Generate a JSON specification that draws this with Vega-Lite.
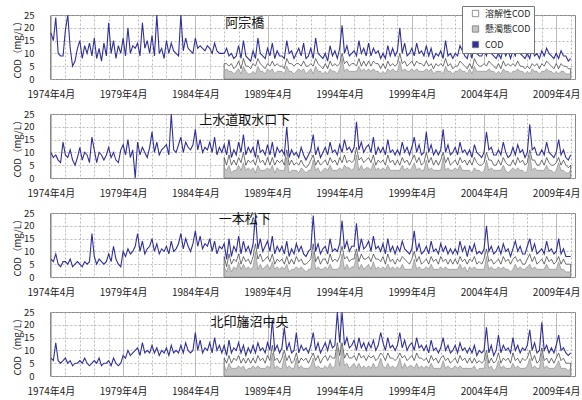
{
"$schema":"https://vega.github.io/schema/vega-lite/v6.json",
"padding":{"left":11,"top":5,"right":0,"bottom":0},
"spacing":6,
"data":{"values":[
{"t":"1974-04","a":18,"b":10,"c":7,"d":7},
{"t":"1974-06","a":15,"b":8,"c":6,"d":6},
{"t":"1974-08","a":24,"b":9,"c":9,"d":13},
{"t":"1974-10","a":10,"b":7,"c":5,"d":6},
{"t":"1974-12","a":9,"b":6,"c":4,"d":5},
{"t":"1975-02","a":9,"b":14,"c":6,"d":6},
{"t":"1975-04","a":19,"b":9,"c":6,"d":7},
{"t":"1975-06","a":25,"b":8,"c":5,"d":5},
{"t":"1975-08","a":12,"b":11,"c":7,"d":6},
{"t":"1975-10","a":5,"b":7,"c":4,"d":4},
{"t":"1975-12","a":7,"b":5,"c":5,"d":5},
{"t":"1976-02","a":12,"b":8,"c":6,"d":5},
{"t":"1976-04","a":15,"b":12,"c":5,"d":6},
{"t":"1976-06","a":8,"b":7,"c":4,"d":5},
{"t":"1976-08","a":13,"b":10,"c":6,"d":7},
{"t":"1976-10","a":10,"b":9,"c":5,"d":5},
{"t":"1976-12","a":14,"b":6,"c":6,"d":4},
{"t":"1977-02","a":9,"b":16,"c":17,"d":5},
{"t":"1977-04","a":16,"b":11,"c":8,"d":6},
{"t":"1977-06","a":8,"b":6,"c":5,"d":5},
{"t":"1977-08","a":12,"b":10,"c":7,"d":7},
{"t":"1977-10","a":7,"b":9,"c":6,"d":4},
{"t":"1977-12","a":14,"b":7,"c":5,"d":5},
{"t":"1978-02","a":9,"b":9,"c":6,"d":5},
{"t":"1978-04","a":22,"b":12,"c":9,"d":6},
{"t":"1978-06","a":10,"b":8,"c":6,"d":4},
{"t":"1978-08","a":15,"b":10,"c":12,"d":7},
{"t":"1978-10","a":8,"b":7,"c":7,"d":5},
{"t":"1978-12","a":13,"b":6,"c":5,"d":4},
{"t":"1979-02","a":10,"b":11,"c":4,"d":5},
{"t":"1979-04","a":16,"b":13,"c":10,"d":8},
{"t":"1979-06","a":9,"b":9,"c":8,"d":7},
{"t":"1979-08","a":20,"b":15,"c":11,"d":10},
{"t":"1979-10","a":10,"b":8,"c":9,"d":8},
{"t":"1979-12","a":13,"b":11,"c":10,"d":9},
{"t":"1980-02","a":12,"b":0,"c":12,"d":10},
{"t":"1980-04","a":14,"b":14,"c":17,"d":11},
{"t":"1980-06","a":9,"b":9,"c":10,"d":8},
{"t":"1980-08","a":22,"b":12,"c":14,"d":13},
{"t":"1980-10","a":12,"b":10,"c":9,"d":9},
{"t":"1980-12","a":15,"b":8,"c":11,"d":10},
{"t":"1981-02","a":10,"b":12,"c":12,"d":9},
{"t":"1981-04","a":17,"b":18,"c":15,"d":12},
{"t":"1981-06","a":9,"b":10,"c":10,"d":9},
{"t":"1981-08","a":25,"b":14,"c":13,"d":11},
{"t":"1981-10","a":10,"b":9,"c":9,"d":8},
{"t":"1981-12","a":12,"b":11,"c":11,"d":10},
{"t":"1982-02","a":8,"b":12,"c":10,"d":9},
{"t":"1982-04","a":15,"b":13,"c":12,"d":11},
{"t":"1982-06","a":10,"b":9,"c":9,"d":8},
{"t":"1982-08","a":14,"b":25,"c":14,"d":12},
{"t":"1982-10","a":11,"b":11,"c":10,"d":9},
{"t":"1982-12","a":10,"b":10,"c":11,"d":10},
{"t":"1983-02","a":9,"b":13,"c":13,"d":9},
{"t":"1983-04","a":25,"b":16,"c":17,"d":12},
{"t":"1983-06","a":11,"b":10,"c":11,"d":9},
{"t":"1983-08","a":16,"b":14,"c":15,"d":13},
{"t":"1983-10","a":12,"b":12,"c":12,"d":10},
{"t":"1983-12","a":11,"b":11,"c":10,"d":9},
{"t":"1984-02","a":10,"b":13,"c":13,"d":10},
{"t":"1984-04","a":16,"b":19,"c":18,"d":17},
{"t":"1984-06","a":12,"b":11,"c":12,"d":10},
{"t":"1984-08","a":13,"b":15,"c":16,"d":14},
{"t":"1984-10","a":12,"b":10,"c":11,"d":9},
{"t":"1984-12","a":11,"b":12,"c":13,"d":11},
{"t":"1985-02","a":13,"b":11,"c":12,"d":10},
{"t":"1985-04","a":12,"b":14,"c":15,"d":13},
{"t":"1985-06","a":10,"b":10,"c":10,"d":9},
{"t":"1985-08","a":14,"b":16,"c":14,"d":15},
{"t":"1985-10","a":11,"b":9,"c":9,"d":10},
{"t":"1985-12","a":10,"b":12,"c":12,"d":12},
{"t":"1986-02","a":10,"b":10,"c":11,"d":9},
{"t":"1986-04","a":10,"ad":6,"as":3,"b":13,"bd":8,"bs":4,"c":13,"cd":8,"cs":4,"d":12,"dd":7,"ds":4},
{"t":"1986-06","a":12,"ad":6,"as":4,"b":9,"bd":5,"bs":3,"c":7,"cd":4,"cs":2,"d":8,"dd":5,"ds":2},
{"t":"1986-08","a":9,"ad":5,"as":3,"b":15,"bd":9,"bs":5,"c":15,"cd":9,"cs":5,"d":14,"dd":8,"ds":5},
{"t":"1986-10","a":10,"ad":6,"as":3,"b":8,"bd":5,"bs":2,"c":8,"cd":5,"cs":2,"d":9,"dd":5,"ds":3},
{"t":"1986-12","a":8,"ad":4,"as":2,"b":11,"bd":7,"bs":3,"c":12,"cd":7,"cs":4,"d":11,"dd":7,"ds":3},
{"t":"1987-02","a":9,"ad":5,"as":3,"b":9,"bd":5,"bs":3,"c":10,"cd":6,"cs":3,"d":10,"dd":6,"ds":3},
{"t":"1987-04","a":13,"ad":7,"as":4,"b":14,"bd":8,"bs":5,"c":16,"cd":9,"cs":6,"d":13,"dd":8,"ds":4},
{"t":"1987-06","a":8,"ad":4,"as":2,"b":10,"bd":6,"bs":3,"c":9,"cd":5,"cs":3,"d":9,"dd":5,"ds":3},
{"t":"1987-08","a":15,"ad":8,"as":5,"b":17,"bd":10,"bs":6,"c":14,"cd":8,"cs":5,"d":12,"dd":7,"ds":4},
{"t":"1987-10","a":9,"ad":5,"as":3,"b":9,"bd":5,"bs":3,"c":10,"cd":6,"cs":3,"d":8,"dd":5,"ds":2},
{"t":"1987-12","a":8,"ad":5,"as":2,"b":12,"bd":7,"bs":4,"c":12,"cd":7,"cs":4,"d":11,"dd":7,"ds":3},
{"t":"1988-02","a":7,"ad":4,"as":2,"b":10,"bd":6,"bs":3,"c":9,"cd":5,"cs":3,"d":9,"dd":5,"ds":3},
{"t":"1988-04","a":11,"ad":6,"as":3,"b":12,"bd":7,"bs":4,"c":13,"cd":8,"cs":4,"d":12,"dd":7,"ds":4},
{"t":"1988-06","a":8,"ad":5,"as":2,"b":8,"bd":5,"bs":2,"c":24,"cd":13,"cs":10,"d":9,"dd":5,"ds":3},
{"t":"1988-08","a":16,"ad":8,"as":5,"b":15,"bd":9,"bs":5,"c":11,"cd":7,"cs":3,"d":13,"dd":8,"ds":4},
{"t":"1988-10","a":10,"ad":6,"as":3,"b":10,"bd":6,"bs":3,"c":15,"cd":9,"cs":5,"d":10,"dd":6,"ds":3},
{"t":"1988-12","a":9,"ad":5,"as":3,"b":11,"bd":7,"bs":3,"c":10,"cd":6,"cs":3,"d":11,"dd":7,"ds":3},
{"t":"1989-02","a":8,"ad":4,"as":2,"b":9,"bd":5,"bs":3,"c":12,"cd":7,"cs":4,"d":9,"dd":5,"ds":3},
{"t":"1989-04","a":12,"ad":6,"as":4,"b":13,"bd":8,"bs":4,"c":14,"cd":8,"cs":5,"d":13,"dd":8,"ds":4},
{"t":"1989-06","a":9,"ad":5,"as":3,"b":9,"bd":5,"bs":3,"c":10,"cd":6,"cs":3,"d":10,"dd":6,"ds":3},
{"t":"1989-08","a":14,"ad":7,"as":4,"b":14,"bd":8,"bs":5,"c":16,"cd":9,"cs":6,"d":22,"dd":12,"ds":9},
{"t":"1989-10","a":8,"ad":5,"as":2,"b":8,"bd":5,"bs":2,"c":9,"cd":5,"cs":3,"d":10,"dd":6,"ds":3},
{"t":"1989-12","a":11,"ad":6,"as":3,"b":12,"bd":7,"bs":4,"c":12,"cd":7,"cs":4,"d":12,"dd":7,"ds":4},
{"t":"1990-02","a":9,"ad":5,"as":3,"b":10,"bd":6,"bs":3,"c":10,"cd":6,"cs":3,"d":9,"dd":5,"ds":3},
{"t":"1990-04","a":9,"ad":5,"as":3,"b":11,"bd":7,"bs":3,"c":12,"cd":7,"cs":4,"d":11,"dd":7,"ds":3},
{"t":"1990-06","a":8,"ad":4,"as":2,"b":9,"bd":5,"bs":3,"c":9,"cd":5,"cs":3,"d":19,"dd":10,"ds":8},
{"t":"1990-08","a":15,"ad":8,"as":5,"b":20,"bd":11,"bs":8,"c":14,"cd":8,"cs":5,"d":10,"dd":6,"ds":3},
{"t":"1990-10","a":10,"ad":6,"as":3,"b":8,"bd":5,"bs":2,"c":8,"cd":5,"cs":2,"d":13,"dd":8,"ds":4},
{"t":"1990-12","a":11,"ad":6,"as":3,"b":11,"bd":7,"bs":3,"c":11,"cd":7,"cs":3,"d":9,"dd":5,"ds":3},
{"t":"1991-02","a":8,"ad":5,"as":2,"b":9,"bd":5,"bs":3,"c":9,"cd":5,"cs":3,"d":10,"dd":6,"ds":3},
{"t":"1991-04","a":10,"ad":6,"as":3,"b":10,"bd":6,"bs":3,"c":13,"cd":8,"cs":4,"d":17,"dd":9,"ds":7},
{"t":"1991-06","a":12,"ad":6,"as":4,"b":8,"bd":5,"bs":2,"c":10,"cd":6,"cs":3,"d":9,"dd":5,"ds":3},
{"t":"1991-08","a":9,"ad":5,"as":3,"b":12,"bd":7,"bs":4,"c":12,"cd":7,"cs":4,"d":12,"dd":7,"ds":4},
{"t":"1991-10","a":14,"ad":7,"as":4,"b":9,"bd":5,"bs":3,"c":9,"cd":5,"cs":3,"d":10,"dd":6,"ds":3},
{"t":"1991-12","a":8,"ad":5,"as":2,"b":7,"bd":4,"bs":2,"c":8,"cd":5,"cs":2,"d":11,"dd":7,"ds":3},
{"t":"1992-02","a":9,"ad":5,"as":3,"b":9,"bd":5,"bs":3,"c":10,"cd":6,"cs":3,"d":9,"dd":5,"ds":3},
{"t":"1992-04","a":12,"ad":6,"as":4,"b":11,"bd":7,"bs":3,"c":11,"cd":7,"cs":3,"d":12,"dd":7,"ds":4},
{"t":"1992-06","a":8,"ad":5,"as":2,"b":17,"bd":9,"bs":7,"c":24,"cd":13,"cs":10,"d":17,"dd":9,"ds":7},
{"t":"1992-08","a":16,"ad":8,"as":5,"b":9,"bd":5,"bs":3,"c":10,"cd":6,"cs":3,"d":10,"dd":6,"ds":3},
{"t":"1992-10","a":10,"ad":6,"as":3,"b":12,"bd":7,"bs":4,"c":13,"cd":8,"cs":4,"d":13,"dd":8,"ds":4},
{"t":"1992-12","a":9,"ad":5,"as":3,"b":8,"bd":5,"bs":2,"c":9,"cd":5,"cs":3,"d":9,"dd":5,"ds":3},
{"t":"1993-02","a":8,"ad":4,"as":2,"b":10,"bd":6,"bs":3,"c":11,"cd":7,"cs":3,"d":11,"dd":7,"ds":3},
{"t":"1993-04","a":10,"ad":6,"as":3,"b":12,"bd":7,"bs":4,"c":12,"cd":7,"cs":4,"d":13,"dd":8,"ds":4},
{"t":"1993-06","a":7,"ad":4,"as":2,"b":9,"bd":5,"bs":3,"c":9,"cd":5,"cs":3,"d":10,"dd":6,"ds":3},
{"t":"1993-08","a":13,"ad":7,"as":4,"b":14,"bd":8,"bs":5,"c":15,"cd":9,"cs":5,"d":14,"dd":8,"ds":5},
{"t":"1993-10","a":9,"ad":5,"as":3,"b":10,"bd":6,"bs":3,"c":10,"cd":6,"cs":3,"d":11,"dd":7,"ds":3},
{"t":"1993-12","a":11,"ad":6,"as":3,"b":11,"bd":7,"bs":3,"c":11,"cd":7,"cs":3,"d":12,"dd":7,"ds":4},
{"t":"1994-02","a":8,"ad":5,"as":2,"b":9,"bd":5,"bs":3,"c":10,"cd":6,"cs":3,"d":25,"dd":13,"ds":11},
{"t":"1994-04","a":12,"ad":6,"as":4,"b":13,"bd":8,"bs":4,"c":13,"cd":8,"cs":4,"d":13,"dd":8,"ds":4},
{"t":"1994-06","a":21,"ad":10,"as":8,"b":10,"bd":6,"bs":3,"c":22,"cd":12,"cs":9,"d":25,"dd":13,"ds":11},
{"t":"1994-08","a":10,"ad":6,"as":3,"b":15,"bd":9,"bs":5,"c":11,"cd":7,"cs":3,"d":12,"dd":7,"ds":4},
{"t":"1994-10","a":13,"ad":7,"as":4,"b":11,"bd":6,"bs":4,"c":14,"cd":8,"cs":5,"d":15,"dd":9,"ds":5},
{"t":"1994-12","a":9,"ad":5,"as":3,"b":12,"bd":7,"bs":4,"c":10,"cd":6,"cs":3,"d":11,"dd":7,"ds":3},
{"t":"1995-02","a":10,"ad":6,"as":3,"b":10,"bd":6,"bs":3,"c":12,"cd":7,"cs":4,"d":12,"dd":7,"ds":4},
{"t":"1995-04","a":11,"ad":6,"as":3,"b":12,"bd":7,"bs":4,"c":12,"cd":7,"cs":4,"d":14,"dd":8,"ds":5},
{"t":"1995-06","a":9,"ad":5,"as":3,"b":22,"bd":12,"bs":9,"c":21,"cd":11,"cs":9,"d":10,"dd":6,"ds":3},
{"t":"1995-08","a":15,"ad":8,"as":5,"b":11,"bd":7,"bs":3,"c":10,"cd":6,"cs":3,"d":15,"dd":9,"ds":5},
{"t":"1995-10","a":10,"ad":5,"as":3,"b":14,"bd":8,"bs":5,"c":15,"cd":9,"cs":5,"d":11,"dd":7,"ds":3},
{"t":"1995-12","a":12,"ad":7,"as":4,"b":10,"bd":6,"bs":3,"c":11,"cd":7,"cs":3,"d":13,"dd":8,"ds":4},
{"t":"1996-02","a":9,"ad":5,"as":3,"b":12,"bd":7,"bs":4,"c":12,"cd":7,"cs":4,"d":10,"dd":6,"ds":3},
{"t":"1996-04","a":14,"ad":7,"as":4,"b":13,"bd":8,"bs":4,"c":14,"cd":8,"cs":5,"d":13,"dd":8,"ds":4},
{"t":"1996-06","a":9,"ad":5,"as":3,"b":10,"bd":6,"bs":3,"c":10,"cd":6,"cs":3,"d":11,"dd":7,"ds":3},
{"t":"1996-08","a":12,"ad":7,"as":4,"b":16,"bd":9,"bs":6,"c":16,"cd":9,"cs":6,"d":14,"dd":8,"ds":5},
{"t":"1996-10","a":10,"ad":6,"as":3,"b":9,"bd":5,"bs":3,"c":11,"cd":7,"cs":3,"d":10,"dd":6,"ds":3},
{"t":"1996-12","a":11,"ad":6,"as":3,"b":12,"bd":7,"bs":4,"c":12,"cd":7,"cs":4,"d":12,"dd":7,"ds":4},
{"t":"1997-02","a":8,"ad":4,"as":2,"b":10,"bd":6,"bs":3,"c":10,"cd":6,"cs":3,"d":17,"dd":9,"ds":7},
{"t":"1997-04","a":10,"ad":6,"as":3,"b":12,"bd":7,"bs":4,"c":13,"cd":8,"cs":4,"d":13,"dd":8,"ds":4},
{"t":"1997-06","a":8,"ad":4,"as":2,"b":9,"bd":5,"bs":3,"c":9,"cd":5,"cs":3,"d":10,"dd":6,"ds":3},
{"t":"1997-08","a":13,"ad":7,"as":4,"b":15,"bd":9,"bs":5,"c":15,"cd":9,"cs":5,"d":15,"dd":9,"ds":5},
{"t":"1997-10","a":9,"ad":5,"as":3,"b":10,"bd":6,"bs":3,"c":10,"cd":6,"cs":3,"d":11,"dd":7,"ds":3},
{"t":"1997-12","a":12,"ad":6,"as":4,"b":11,"bd":7,"bs":3,"c":12,"cd":7,"cs":4,"d":12,"dd":7,"ds":4},
{"t":"1998-02","a":9,"ad":5,"as":3,"b":9,"bd":5,"bs":3,"c":9,"cd":5,"cs":3,"d":10,"dd":6,"ds":3},
{"t":"1998-04","a":11,"ad":6,"as":3,"b":11,"bd":7,"bs":3,"c":12,"cd":7,"cs":4,"d":12,"dd":7,"ds":4},
{"t":"1998-06","a":20,"ad":10,"as":7,"b":9,"bd":5,"bs":3,"c":10,"cd":6,"cs":3,"d":17,"dd":9,"ds":7},
{"t":"1998-08","a":10,"ad":6,"as":3,"b":14,"bd":8,"bs":5,"c":14,"cd":8,"cs":5,"d":11,"dd":7,"ds":3},
{"t":"1998-10","a":14,"ad":7,"as":4,"b":10,"bd":6,"bs":3,"c":11,"cd":7,"cs":3,"d":14,"dd":8,"ds":5},
{"t":"1998-12","a":9,"ad":5,"as":3,"b":12,"bd":7,"bs":4,"c":10,"cd":6,"cs":3,"d":10,"dd":6,"ds":3},
{"t":"1999-02","a":10,"ad":6,"as":3,"b":9,"bd":5,"bs":3,"c":9,"cd":5,"cs":3,"d":12,"dd":7,"ds":4},
{"t":"1999-04","a":12,"ad":7,"as":4,"b":12,"bd":7,"bs":4,"c":11,"cd":7,"cs":3,"d":13,"dd":8,"ds":4},
{"t":"1999-06","a":9,"ad":5,"as":3,"b":16,"bd":9,"bs":6,"c":18,"cd":10,"cs":7,"d":10,"dd":6,"ds":3},
{"t":"1999-08","a":14,"ad":7,"as":4,"b":10,"bd":6,"bs":3,"c":10,"cd":6,"cs":3,"d":15,"dd":9,"ds":5},
{"t":"1999-10","a":10,"ad":6,"as":3,"b":13,"bd":8,"bs":4,"c":13,"cd":8,"cs":4,"d":11,"dd":7,"ds":3},
{"t":"1999-12","a":11,"ad":6,"as":3,"b":9,"bd":5,"bs":3,"c":9,"cd":5,"cs":3,"d":12,"dd":7,"ds":4},
{"t":"2000-02","a":9,"ad":5,"as":3,"b":10,"bd":6,"bs":3,"c":10,"cd":6,"cs":3,"d":10,"dd":6,"ds":3},
{"t":"2000-04","a":13,"ad":7,"as":4,"b":18,"bd":10,"bs":7,"c":12,"cd":7,"cs":4,"d":12,"dd":7,"ds":4},
{"t":"2000-06","a":9,"ad":5,"as":3,"b":10,"bd":6,"bs":3,"c":9,"cd":5,"cs":3,"d":9,"dd":5,"ds":3},
{"t":"2000-08","a":12,"ad":6,"as":4,"b":13,"bd":8,"bs":4,"c":14,"cd":8,"cs":5,"d":14,"dd":8,"ds":5},
{"t":"2000-10","a":8,"ad":4,"as":2,"b":9,"bd":5,"bs":3,"c":10,"cd":6,"cs":3,"d":10,"dd":6,"ds":3},
{"t":"2000-12","a":10,"ad":6,"as":3,"b":11,"bd":7,"bs":3,"c":11,"cd":7,"cs":3,"d":11,"dd":7,"ds":3},
{"t":"2001-02","a":9,"ad":5,"as":3,"b":9,"bd":5,"bs":3,"c":9,"cd":5,"cs":3,"d":9,"dd":5,"ds":3},
{"t":"2001-04","a":11,"ad":6,"as":3,"b":11,"bd":7,"bs":3,"c":13,"cd":8,"cs":4,"d":11,"dd":7,"ds":3},
{"t":"2001-06","a":8,"ad":5,"as":2,"b":19,"bd":10,"bs":8,"c":10,"cd":6,"cs":3,"d":15,"dd":8,"ds":6},
{"t":"2001-08","a":15,"ad":8,"as":5,"b":10,"bd":6,"bs":3,"c":12,"cd":7,"cs":4,"d":10,"dd":6,"ds":3},
{"t":"2001-10","a":9,"ad":5,"as":3,"b":13,"bd":8,"bs":4,"c":9,"cd":5,"cs":3,"d":12,"dd":7,"ds":4},
{"t":"2001-12","a":10,"ad":6,"as":3,"b":9,"bd":5,"bs":3,"c":11,"cd":7,"cs":3,"d":9,"dd":5,"ds":3},
{"t":"2002-02","a":8,"ad":4,"as":2,"b":10,"bd":6,"bs":3,"c":9,"cd":5,"cs":3,"d":10,"dd":6,"ds":3},
{"t":"2002-04","a":10,"ad":5,"as":3,"b":12,"bd":7,"bs":4,"c":11,"cd":7,"cs":3,"d":12,"dd":7,"ds":4},
{"t":"2002-06","a":9,"ad":5,"as":3,"b":9,"bd":5,"bs":3,"c":9,"cd":5,"cs":3,"d":9,"dd":5,"ds":3},
{"t":"2002-08","a":13,"ad":7,"as":4,"b":14,"bd":8,"bs":5,"c":14,"cd":8,"cs":5,"d":13,"dd":8,"ds":4},
{"t":"2002-10","a":11,"ad":6,"as":3,"b":10,"bd":6,"bs":3,"c":10,"cd":6,"cs":3,"d":10,"dd":6,"ds":3},
{"t":"2002-12","a":9,"ad":5,"as":3,"b":11,"bd":7,"bs":3,"c":12,"cd":7,"cs":4,"d":11,"dd":7,"ds":3},
{"t":"2003-02","a":8,"ad":4,"as":2,"b":9,"bd":5,"bs":3,"c":8,"cd":5,"cs":2,"d":9,"dd":5,"ds":3},
{"t":"2003-04","a":12,"ad":6,"as":4,"b":11,"bd":7,"bs":3,"c":12,"cd":7,"cs":4,"d":11,"dd":7,"ds":3},
{"t":"2003-06","a":8,"ad":4,"as":2,"b":8,"bd":5,"bs":2,"c":10,"cd":6,"cs":3,"d":9,"dd":5,"ds":3},
{"t":"2003-08","a":15,"ad":8,"as":5,"b":13,"bd":8,"bs":4,"c":13,"cd":8,"cs":4,"d":12,"dd":7,"ds":4},
{"t":"2003-10","a":10,"ad":6,"as":3,"b":10,"bd":6,"bs":3,"c":9,"cd":5,"cs":3,"d":8,"dd":5,"ds":2},
{"t":"2003-12","a":9,"ad":5,"as":3,"b":9,"bd":5,"bs":3,"c":10,"cd":6,"cs":3,"d":10,"dd":6,"ds":3},
{"t":"2004-02","a":9,"ad":5,"as":3,"b":8,"bd":5,"bs":2,"c":9,"cd":5,"cs":3,"d":9,"dd":5,"ds":3},
{"t":"2004-04","a":11,"ad":6,"as":3,"b":10,"bd":6,"bs":3,"c":11,"cd":7,"cs":3,"d":10,"dd":6,"ds":3},
{"t":"2004-06","a":9,"ad":5,"as":3,"b":18,"bd":10,"bs":7,"c":20,"cd":11,"cs":8,"d":19,"dd":10,"ds":8},
{"t":"2004-08","a":13,"ad":7,"as":4,"b":11,"bd":7,"bs":3,"c":10,"cd":6,"cs":3,"d":9,"dd":5,"ds":3},
{"t":"2004-10","a":10,"ad":6,"as":3,"b":12,"bd":7,"bs":4,"c":12,"cd":7,"cs":4,"d":12,"dd":7,"ds":4},
{"t":"2004-12","a":9,"ad":5,"as":3,"b":9,"bd":5,"bs":3,"c":9,"cd":5,"cs":3,"d":8,"dd":5,"ds":2},
{"t":"2005-02","a":8,"ad":4,"as":2,"b":9,"bd":5,"bs":3,"c":10,"cd":6,"cs":3,"d":10,"dd":6,"ds":3},
{"t":"2005-04","a":10,"ad":6,"as":3,"b":11,"bd":7,"bs":3,"c":12,"cd":7,"cs":4,"d":16,"dd":9,"ds":6},
{"t":"2005-06","a":8,"ad":4,"as":2,"b":9,"bd":5,"bs":3,"c":9,"cd":5,"cs":3,"d":9,"dd":5,"ds":3},
{"t":"2005-08","a":12,"ad":7,"as":4,"b":14,"bd":8,"bs":5,"c":13,"cd":8,"cs":4,"d":12,"dd":7,"ds":4},
{"t":"2005-10","a":9,"ad":5,"as":3,"b":10,"bd":6,"bs":3,"c":10,"cd":6,"cs":3,"d":10,"dd":6,"ds":3},
{"t":"2005-12","a":11,"ad":6,"as":3,"b":8,"bd":5,"bs":2,"c":11,"cd":7,"cs":3,"d":11,"dd":7,"ds":3},
{"t":"2006-02","a":8,"ad":5,"as":2,"b":9,"bd":5,"bs":3,"c":8,"cd":5,"cs":2,"d":9,"dd":5,"ds":3},
{"t":"2006-04","a":11,"ad":6,"as":3,"b":12,"bd":7,"bs":4,"c":11,"cd":7,"cs":3,"d":15,"dd":9,"ds":5},
{"t":"2006-06","a":9,"ad":5,"as":3,"b":9,"bd":5,"bs":3,"c":14,"cd":8,"cs":5,"d":10,"dd":6,"ds":3},
{"t":"2006-08","a":13,"ad":7,"as":4,"b":13,"bd":8,"bs":4,"c":10,"cd":6,"cs":3,"d":12,"dd":7,"ds":4},
{"t":"2006-10","a":10,"ad":5,"as":3,"b":10,"bd":6,"bs":3,"c":12,"cd":7,"cs":4,"d":9,"dd":5,"ds":3},
{"t":"2006-12","a":9,"ad":5,"as":3,"b":11,"bd":7,"bs":3,"c":9,"cd":5,"cs":3,"d":11,"dd":7,"ds":3},
{"t":"2007-02","a":8,"ad":4,"as":2,"b":8,"bd":5,"bs":2,"c":9,"cd":5,"cs":3,"d":10,"dd":6,"ds":3},
{"t":"2007-04","a":10,"ad":5,"as":3,"b":10,"bd":6,"bs":3,"c":12,"cd":7,"cs":4,"d":12,"dd":7,"ds":4},
{"t":"2007-06","a":8,"ad":4,"as":2,"b":21,"bd":11,"bs":9,"c":15,"cd":9,"cs":5,"d":18,"dd":10,"ds":7},
{"t":"2007-08","a":12,"ad":6,"as":4,"b":11,"bd":7,"bs":3,"c":10,"cd":6,"cs":3,"d":10,"dd":6,"ds":3},
{"t":"2007-10","a":9,"ad":5,"as":3,"b":12,"bd":7,"bs":4,"c":13,"cd":8,"cs":4,"d":13,"dd":8,"ds":4},
{"t":"2007-12","a":10,"ad":6,"as":3,"b":9,"bd":5,"bs":3,"c":9,"cd":5,"cs":3,"d":9,"dd":5,"ds":3},
{"t":"2008-02","a":8,"ad":4,"as":2,"b":9,"bd":5,"bs":3,"c":10,"cd":6,"cs":3,"d":10,"dd":6,"ds":3},
{"t":"2008-04","a":11,"ad":6,"as":3,"b":11,"bd":7,"bs":3,"c":11,"cd":7,"cs":3,"d":21,"dd":11,"ds":9},
{"t":"2008-06","a":9,"ad":5,"as":3,"b":9,"bd":5,"bs":3,"c":9,"cd":5,"cs":3,"d":10,"dd":6,"ds":3},
{"t":"2008-08","a":12,"ad":7,"as":4,"b":14,"bd":8,"bs":5,"c":14,"cd":8,"cs":5,"d":12,"dd":7,"ds":4},
{"t":"2008-10","a":10,"ad":6,"as":3,"b":10,"bd":6,"bs":3,"c":10,"cd":6,"cs":3,"d":9,"dd":5,"ds":3},
{"t":"2008-12","a":9,"ad":5,"as":3,"b":9,"bd":5,"bs":3,"c":11,"cd":7,"cs":3,"d":11,"dd":7,"ds":3},
{"t":"2009-02","a":8,"ad":4,"as":2,"b":8,"bd":5,"bs":2,"c":9,"cd":5,"cs":3,"d":9,"dd":5,"ds":3},
{"t":"2009-04","a":10,"ad":6,"as":3,"b":10,"bd":6,"bs":3,"c":10,"cd":6,"cs":3,"d":12,"dd":7,"ds":4},
{"t":"2009-06","a":8,"ad":4,"as":2,"b":15,"bd":8,"bs":6,"c":15,"cd":8,"cs":6,"d":16,"dd":9,"ds":6},
{"t":"2009-08","a":11,"ad":6,"as":3,"b":9,"bd":5,"bs":3,"c":9,"cd":5,"cs":3,"d":10,"dd":6,"ds":3},
{"t":"2009-10","a":9,"ad":5,"as":3,"b":11,"bd":7,"bs":3,"c":11,"cd":7,"cs":3,"d":11,"dd":7,"ds":3},
{"t":"2009-12","a":9,"ad":5,"as":2,"b":8,"bd":5,"bs":2,"c":8,"cd":5,"cs":2,"d":9,"dd":5,"ds":3},
{"t":"2010-02","a":7,"ad":4,"as":2,"b":7,"bd":4,"bs":2,"c":8,"cd":5,"cs":2,"d":8,"dd":5,"ds":2},
{"t":"2010-04","a":8,"ad":4,"as":2,"b":9,"bd":5,"bs":3,"c":8,"cd":5,"cs":2,"d":9,"dd":5,"ds":3}
]},
"vconcat":[
{"width":525,"height":64,
"encoding":{"x":{"field":"t","type":"temporal","title":null,"scale":{"type":"utc","domain":[{"year":1974,"month":3,"date":8,"utc":true},{"year":2010,"month":7,"date":20,"utc":true}]},
"axis":{"values":[{"year":1974,"month":4,"utc":true},{"year":1975,"month":4,"utc":true},{"year":1976,"month":4,"utc":true},{"year":1977,"month":4,"utc":true},{"year":1978,"month":4,"utc":true},{"year":1979,"month":4,"utc":true},{"year":1980,"month":4,"utc":true},{"year":1981,"month":4,"utc":true},{"year":1982,"month":4,"utc":true},{"year":1983,"month":4,"utc":true},{"year":1984,"month":4,"utc":true},{"year":1985,"month":4,"utc":true},{"year":1986,"month":4,"utc":true},{"year":1987,"month":4,"utc":true},{"year":1988,"month":4,"utc":true},{"year":1989,"month":4,"utc":true},{"year":1990,"month":4,"utc":true},{"year":1991,"month":4,"utc":true},{"year":1992,"month":4,"utc":true},{"year":1993,"month":4,"utc":true},{"year":1994,"month":4,"utc":true},{"year":1995,"month":4,"utc":true},{"year":1996,"month":4,"utc":true},{"year":1997,"month":4,"utc":true},{"year":1998,"month":4,"utc":true},{"year":1999,"month":4,"utc":true},{"year":2000,"month":4,"utc":true},{"year":2001,"month":4,"utc":true},{"year":2002,"month":4,"utc":true},{"year":2003,"month":4,"utc":true},{"year":2004,"month":4,"utc":true},{"year":2005,"month":4,"utc":true},{"year":2006,"month":4,"utc":true},{"year":2007,"month":4,"utc":true},{"year":2008,"month":4,"utc":true},{"year":2009,"month":4,"utc":true},{"year":2010,"month":4,"utc":true}],
"labelExpr":"(utcyear(datum.value)-1974)%5==0 ? utcyear(datum.value)+'年4月' : ''",
"gridDash":{"condition":{"test":"(utcyear(datum.value)-1974)%5==0","value":[]},"value":[2,2]}}}},
"layer":[
{"transform":[{"filter":"isValid(datum.ad)"}],"mark":{"type":"area","stroke":"#333333","strokeWidth":0.7},
"encoding":{"y":{"field":"ad","type":"quantitative","title":"COD（mg/L）","scale":{"domain":[0,25]},"axis":{"values":[0,5,10,15,20,25]}},
"fill":{"datum":"溶解性COD","scale":{"domain":["溶解性COD","懸濁態COD","COD"],"range":["#ffffff","#c4c4c4","#30309a"]},
"legend":{"orient":"none","legendX":412,"legendY":-9,"title":null,"symbolType":"square","symbolSize":40,"symbolStrokeColor":"#333333","symbolStrokeWidth":0.8,"rowPadding":4.5,"symbolOffset":6,"padding":3,"labelFontSize":9}}}},
{"transform":[{"filter":"isValid(datum.as)"}],"mark":{"type":"area","stroke":"#777777","strokeWidth":0.5},
"encoding":{"y":{"field":"as","type":"quantitative","title":"COD（mg/L）","scale":{"domain":[0,25]},"axis":{"values":[0,5,10,15,20,25]}},
"fill":{"datum":"懸濁態COD","scale":{"domain":["溶解性COD","懸濁態COD","COD"],"range":["#ffffff","#c4c4c4","#30309a"]}}}},
{"mark":{"type":"line","strokeWidth":1.1,"color":"#30309a"},
"encoding":{"y":{"field":"a","type":"quantitative","title":"COD（mg/L）","scale":{"domain":[0,25]},"axis":{"values":[0,5,10,15,20,25]}}}},
{"data":{"values":[{"t":"1987-09","y":22,"n":"阿宗橋"}]},"mark":{"type":"text","fontSize":13,"color":"#111111","align":"center","baseline":"middle"},
"encoding":{"y":{"field":"y","type":"quantitative","title":"COD（mg/L）","scale":{"domain":[0,25]},"axis":{"values":[0,5,10,15,20,25]}},"text":{"field":"n"}}}
]},
{"width":525,"height":64,
"encoding":{"x":{"field":"t","type":"temporal","title":null,"scale":{"type":"utc","domain":[{"year":1974,"month":3,"date":8,"utc":true},{"year":2010,"month":7,"date":20,"utc":true}]},
"axis":{"values":[{"year":1974,"month":4,"utc":true},{"year":1975,"month":4,"utc":true},{"year":1976,"month":4,"utc":true},{"year":1977,"month":4,"utc":true},{"year":1978,"month":4,"utc":true},{"year":1979,"month":4,"utc":true},{"year":1980,"month":4,"utc":true},{"year":1981,"month":4,"utc":true},{"year":1982,"month":4,"utc":true},{"year":1983,"month":4,"utc":true},{"year":1984,"month":4,"utc":true},{"year":1985,"month":4,"utc":true},{"year":1986,"month":4,"utc":true},{"year":1987,"month":4,"utc":true},{"year":1988,"month":4,"utc":true},{"year":1989,"month":4,"utc":true},{"year":1990,"month":4,"utc":true},{"year":1991,"month":4,"utc":true},{"year":1992,"month":4,"utc":true},{"year":1993,"month":4,"utc":true},{"year":1994,"month":4,"utc":true},{"year":1995,"month":4,"utc":true},{"year":1996,"month":4,"utc":true},{"year":1997,"month":4,"utc":true},{"year":1998,"month":4,"utc":true},{"year":1999,"month":4,"utc":true},{"year":2000,"month":4,"utc":true},{"year":2001,"month":4,"utc":true},{"year":2002,"month":4,"utc":true},{"year":2003,"month":4,"utc":true},{"year":2004,"month":4,"utc":true},{"year":2005,"month":4,"utc":true},{"year":2006,"month":4,"utc":true},{"year":2007,"month":4,"utc":true},{"year":2008,"month":4,"utc":true},{"year":2009,"month":4,"utc":true},{"year":2010,"month":4,"utc":true}],
"labelExpr":"(utcyear(datum.value)-1974)%5==0 ? utcyear(datum.value)+'年4月' : ''",
"gridDash":{"condition":{"test":"(utcyear(datum.value)-1974)%5==0","value":[]},"value":[2,2]}}}},
"layer":[
{"transform":[{"filter":"isValid(datum.bd)"}],"mark":{"type":"area","stroke":"#333333","strokeWidth":0.7},
"encoding":{"y":{"field":"bd","type":"quantitative","title":"COD（mg/L）","scale":{"domain":[0,25]},"axis":{"values":[0,5,10,15,20,25]}},
"fill":{"datum":"溶解性COD","scale":{"domain":["溶解性COD","懸濁態COD","COD"],"range":["#ffffff","#c4c4c4","#30309a"]}}}},
{"transform":[{"filter":"isValid(datum.bs)"}],"mark":{"type":"area","stroke":"#777777","strokeWidth":0.5},
"encoding":{"y":{"field":"bs","type":"quantitative","title":"COD（mg/L）","scale":{"domain":[0,25]},"axis":{"values":[0,5,10,15,20,25]}},
"fill":{"datum":"懸濁態COD","scale":{"domain":["溶解性COD","懸濁態COD","COD"],"range":["#ffffff","#c4c4c4","#30309a"]}}}},
{"mark":{"type":"line","strokeWidth":1.1,"color":"#30309a"},
"encoding":{"y":{"field":"b","type":"quantitative","title":"COD（mg/L）","scale":{"domain":[0,25]},"axis":{"values":[0,5,10,15,20,25]}}}},
{"data":{"values":[{"t":"1987-09","y":22.5,"n":"上水道取水口下"}]},"mark":{"type":"text","fontSize":13,"color":"#111111","align":"center","baseline":"middle"},
"encoding":{"y":{"field":"y","type":"quantitative","title":"COD（mg/L）","scale":{"domain":[0,25]},"axis":{"values":[0,5,10,15,20,25]}},"text":{"field":"n"}}}
]},
{"width":525,"height":64,
"encoding":{"x":{"field":"t","type":"temporal","title":null,"scale":{"type":"utc","domain":[{"year":1974,"month":3,"date":8,"utc":true},{"year":2010,"month":7,"date":20,"utc":true}]},
"axis":{"values":[{"year":1974,"month":4,"utc":true},{"year":1975,"month":4,"utc":true},{"year":1976,"month":4,"utc":true},{"year":1977,"month":4,"utc":true},{"year":1978,"month":4,"utc":true},{"year":1979,"month":4,"utc":true},{"year":1980,"month":4,"utc":true},{"year":1981,"month":4,"utc":true},{"year":1982,"month":4,"utc":true},{"year":1983,"month":4,"utc":true},{"year":1984,"month":4,"utc":true},{"year":1985,"month":4,"utc":true},{"year":1986,"month":4,"utc":true},{"year":1987,"month":4,"utc":true},{"year":1988,"month":4,"utc":true},{"year":1989,"month":4,"utc":true},{"year":1990,"month":4,"utc":true},{"year":1991,"month":4,"utc":true},{"year":1992,"month":4,"utc":true},{"year":1993,"month":4,"utc":true},{"year":1994,"month":4,"utc":true},{"year":1995,"month":4,"utc":true},{"year":1996,"month":4,"utc":true},{"year":1997,"month":4,"utc":true},{"year":1998,"month":4,"utc":true},{"year":1999,"month":4,"utc":true},{"year":2000,"month":4,"utc":true},{"year":2001,"month":4,"utc":true},{"year":2002,"month":4,"utc":true},{"year":2003,"month":4,"utc":true},{"year":2004,"month":4,"utc":true},{"year":2005,"month":4,"utc":true},{"year":2006,"month":4,"utc":true},{"year":2007,"month":4,"utc":true},{"year":2008,"month":4,"utc":true},{"year":2009,"month":4,"utc":true},{"year":2010,"month":4,"utc":true}],
"labelExpr":"(utcyear(datum.value)-1974)%5==0 ? utcyear(datum.value)+'年4月' : ''",
"gridDash":{"condition":{"test":"(utcyear(datum.value)-1974)%5==0","value":[]},"value":[2,2]}}}},
"layer":[
{"transform":[{"filter":"isValid(datum.cd)"}],"mark":{"type":"area","stroke":"#333333","strokeWidth":0.7},
"encoding":{"y":{"field":"cd","type":"quantitative","title":"COD（mg/L）","scale":{"domain":[0,25]},"axis":{"values":[0,5,10,15,20,25]}},
"fill":{"datum":"溶解性COD","scale":{"domain":["溶解性COD","懸濁態COD","COD"],"range":["#ffffff","#c4c4c4","#30309a"]}}}},
{"transform":[{"filter":"isValid(datum.cs)"}],"mark":{"type":"area","stroke":"#777777","strokeWidth":0.5},
"encoding":{"y":{"field":"cs","type":"quantitative","title":"COD（mg/L）","scale":{"domain":[0,25]},"axis":{"values":[0,5,10,15,20,25]}},
"fill":{"datum":"懸濁態COD","scale":{"domain":["溶解性COD","懸濁態COD","COD"],"range":["#ffffff","#c4c4c4","#30309a"]}}}},
{"mark":{"type":"line","strokeWidth":1.1,"color":"#30309a"},
"encoding":{"y":{"field":"c","type":"quantitative","title":"COD（mg/L）","scale":{"domain":[0,25]},"axis":{"values":[0,5,10,15,20,25]}}}},
{"data":{"values":[{"t":"1987-09","y":22.5,"n":"一本松下"}]},"mark":{"type":"text","fontSize":13,"color":"#111111","align":"center","baseline":"middle"},
"encoding":{"y":{"field":"y","type":"quantitative","title":"COD（mg/L）","scale":{"domain":[0,25]},"axis":{"values":[0,5,10,15,20,25]}},"text":{"field":"n"}}}
]},
{"width":525,"height":64,
"encoding":{"x":{"field":"t","type":"temporal","title":null,"scale":{"type":"utc","domain":[{"year":1974,"month":3,"date":8,"utc":true},{"year":2010,"month":7,"date":20,"utc":true}]},
"axis":{"values":[{"year":1974,"month":4,"utc":true},{"year":1975,"month":4,"utc":true},{"year":1976,"month":4,"utc":true},{"year":1977,"month":4,"utc":true},{"year":1978,"month":4,"utc":true},{"year":1979,"month":4,"utc":true},{"year":1980,"month":4,"utc":true},{"year":1981,"month":4,"utc":true},{"year":1982,"month":4,"utc":true},{"year":1983,"month":4,"utc":true},{"year":1984,"month":4,"utc":true},{"year":1985,"month":4,"utc":true},{"year":1986,"month":4,"utc":true},{"year":1987,"month":4,"utc":true},{"year":1988,"month":4,"utc":true},{"year":1989,"month":4,"utc":true},{"year":1990,"month":4,"utc":true},{"year":1991,"month":4,"utc":true},{"year":1992,"month":4,"utc":true},{"year":1993,"month":4,"utc":true},{"year":1994,"month":4,"utc":true},{"year":1995,"month":4,"utc":true},{"year":1996,"month":4,"utc":true},{"year":1997,"month":4,"utc":true},{"year":1998,"month":4,"utc":true},{"year":1999,"month":4,"utc":true},{"year":2000,"month":4,"utc":true},{"year":2001,"month":4,"utc":true},{"year":2002,"month":4,"utc":true},{"year":2003,"month":4,"utc":true},{"year":2004,"month":4,"utc":true},{"year":2005,"month":4,"utc":true},{"year":2006,"month":4,"utc":true},{"year":2007,"month":4,"utc":true},{"year":2008,"month":4,"utc":true},{"year":2009,"month":4,"utc":true},{"year":2010,"month":4,"utc":true}],
"labelExpr":"(utcyear(datum.value)-1974)%5==0 ? utcyear(datum.value)+'年4月' : ''",
"gridDash":{"condition":{"test":"(utcyear(datum.value)-1974)%5==0","value":[]},"value":[2,2]}}}},
"layer":[
{"transform":[{"filter":"isValid(datum.dd)"}],"mark":{"type":"area","stroke":"#333333","strokeWidth":0.7},
"encoding":{"y":{"field":"dd","type":"quantitative","title":"COD（mg/L）","scale":{"domain":[0,25]},"axis":{"values":[0,5,10,15,20,25]}},
"fill":{"datum":"溶解性COD","scale":{"domain":["溶解性COD","懸濁態COD","COD"],"range":["#ffffff","#c4c4c4","#30309a"]}}}},
{"transform":[{"filter":"isValid(datum.ds)"}],"mark":{"type":"area","stroke":"#777777","strokeWidth":0.5},
"encoding":{"y":{"field":"ds","type":"quantitative","title":"COD（mg/L）","scale":{"domain":[0,25]},"axis":{"values":[0,5,10,15,20,25]}},
"fill":{"datum":"懸濁態COD","scale":{"domain":["溶解性COD","懸濁態COD","COD"],"range":["#ffffff","#c4c4c4","#30309a"]}}}},
{"mark":{"type":"line","strokeWidth":1.1,"color":"#30309a"},
"encoding":{"y":{"field":"d","type":"quantitative","title":"COD（mg/L）","scale":{"domain":[0,25]},"axis":{"values":[0,5,10,15,20,25]}}}},
{"data":{"values":[{"t":"1988-01","y":21,"n":"北印旛沼中央"}]},"mark":{"type":"text","fontSize":13,"color":"#111111","align":"center","baseline":"middle"},
"encoding":{"y":{"field":"y","type":"quantitative","title":"COD（mg/L）","scale":{"domain":[0,25]},"axis":{"values":[0,5,10,15,20,25]}},"text":{"field":"n"}}}
]}
],
"config":{
"font":"Noto Sans CJK JP",
"view":{"stroke":"#888888","strokeWidth":1},
"axis":{"labelFont":"Noto Sans CJK JP","labelColor":"#222222","labelFontSize":10,"ticks":false,"domain":false,"gridColor":"#aaaaaa","gridWidth":0.8,"titleFont":"Noto Sans CJK JP","titleFontWeight":"normal","titleFontSize":9.5,"titleColor":"#222222"},
"axisY":{"gridDash":[2,2],"labelPadding":16,"minExtent":26,"maxExtent":26,"titlePadding":2,"labelOverlap":false,"labelFontSize":9.5},
"axisX":{"labelPadding":10,"minExtent":22,"maxExtent":22,"labelOverlap":false,"labelFlush":false},
"legend":{"fillColor":"#ffffff","strokeColor":"#777777","labelFont":"Noto Sans CJK JP","labelColor":"#222222","labelOffset":5}
}
}
